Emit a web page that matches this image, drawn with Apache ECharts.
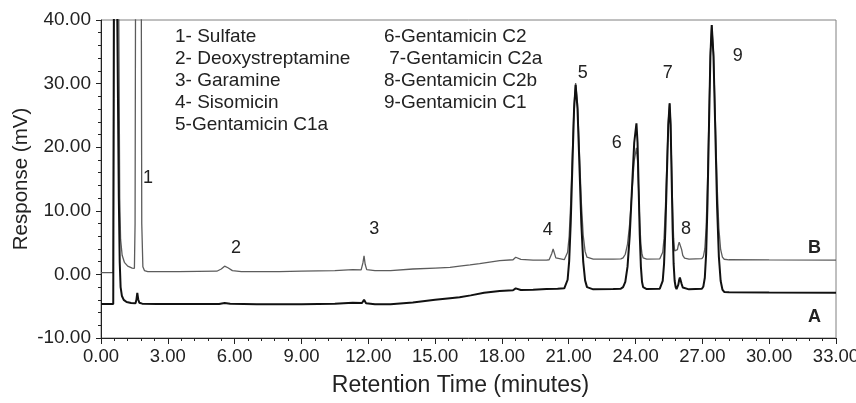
<!DOCTYPE html>
<html><head><meta charset="utf-8">
<script src="https://cdn.jsdelivr.net/npm/echarts@6/dist/echarts.min.js"></script>
<style>html,body{margin:0;padding:0;background:#fff}#c{width:856px;height:403px}</style>
</head><body><div id="c"></div>
<script>
// ---- data (retention time in minutes, response in mV) ----
const xRange = [0, 33];
const yRange = [-10, 40];
const xTickStep = 3;
const yTickStep = 10;

// Trace A (black)
const traceA = [
  [0,-4.65],[0.55,-4.65],[0.58,45],[0.72,45],[0.80,12],[0.84,2],[0.88,-2],[0.94,-3.4],[1.02,-4.0],[1.15,-4.35],[1.35,-4.5],
  [1.55,-4.55],[1.59,-4.0],[1.63,-2.9],[1.67,-3.9],[1.72,-4.45],[1.85,-4.6],[2.5,-4.65],[4.0,-4.65],[5.3,-4.65],[5.55,-4.5],[5.8,-4.6],
  [7.0,-4.7],[9.0,-4.7],[10.5,-4.6],[11.3,-4.45],[11.72,-4.5],[11.81,-4.0],[11.9,-4.55],[12.3,-4.7],[13.0,-4.7],[14.0,-4.4],[15.0,-4.0],
  [15.67,-3.75],[16.1,-3.6],[16.6,-3.3],[17.2,-2.9],[17.9,-2.6],[18.5,-2.5],[18.62,-2.2],[18.7,-2.15],[18.85,-2.45],[19.4,-2.4],[20.0,-2.3],
  [20.5,-2.25],[20.80,-2.18],[20.875,-1.9],[20.95,-0.84],[21.02,2.09],[21.09,8.15],[21.165,17.2],[21.24,26.0],[21.31,29.8],
  [21.395,26.0],[21.48,17.15],[21.565,8.1],[21.65,2.0],[21.735,-0.94],[21.82,-2.0],[21.905,-2.28],[22.1,-2.35],
  [23.0,-2.3],[23.34,-2.24],[23.44,-2.0],[23.54,-1.16],[23.64,1.22],[23.74,6.16],[23.84,13.5],[23.94,20.7],[24.04,23.75],
  [24.09,20.7],[24.14,13.5],[24.19,6.16],[24.24,1.22],[24.29,-1.16],[24.34,-2.0],[24.39,-2.24],[24.5,-2.3],
  [25.09,-2.24],[25.155,-1.98],[25.22,-1.02],[25.28,1.65],[25.34,7.2],[25.405,15.4],[25.47,23.5],[25.53,26.9],
  [25.575,23.5],[25.62,15.4],[25.665,7.2],[25.71,1.65],[25.755,-1.0],[25.80,-1.98],[25.84,-2.3],
  [25.88,-2.2],[25.92,-1.6],[25.96,-0.85],[25.99,-0.5],[26.03,-0.8],[26.07,-1.5],[26.12,-2.05],[26.2,-2.3],[26.4,-2.35],
  [26.98,-2.26],[27.045,-1.89],[27.11,-0.53],[27.17,3.27],[27.23,11.14],[27.295,22.85],[27.36,34.3],[27.42,39.2],
  [27.50,34.3],[27.58,22.65],[27.66,10.8],[27.74,2.84],[27.82,-1.0],[27.90,-2.38],[27.98,-2.76],[28.2,-2.8],[30.0,-2.85],[33,-2.9]
];

// Trace B (grey)
const traceB = [
  [0,0.27],[0.55,0.27],[0.58,45],[0.76,45],[0.80,40],[0.84,12],[0.88,5.5],[0.95,3.0],[1.05,1.9],[1.2,1.3],[1.4,1.0],[1.5,0.95],
  [1.53,8],[1.56,60],[1.80,60],[1.83,8],[1.88,1.2],[1.95,0.6],[2.1,0.45],[3.5,0.45],[5.2,0.5],[5.4,0.85],[5.55,1.3],[5.7,1.05],[5.9,0.6],
  [6.3,0.45],[8.0,0.45],[9.0,0.5],[10.5,0.6],[11.3,0.75],[11.68,0.7],[11.76,1.8],[11.81,2.9],[11.86,1.6],[11.93,0.75],[12.3,0.6],
  [13.0,0.6],[14.0,0.85],[15.0,1.0],[15.67,1.1],[16.1,1.3],[16.57,1.5],[17.0,1.7],[17.9,2.15],[18.5,2.3],[18.62,2.7],[18.7,2.75],
  [18.85,2.35],[19.4,2.26],[20.0,2.26],[20.12,2.3],[20.18,2.6],[20.24,3.3],[20.3,4.0],[20.36,3.3],[20.42,2.6],[20.5,2.3],
  [20.80,2.32],[20.875,2.57],[20.95,3.48],[21.02,6.03],[21.09,11.3],[21.165,19.15],[21.24,26.8],[21.31,30.1],
  [21.395,26.85],[21.48,19.2],[21.565,11.4],[21.65,6.15],[21.735,3.62],[21.82,2.7],[21.905,2.46],[22.1,2.4],
  [23.0,2.4],[23.34,2.44],[23.44,2.6],[23.54,3.17],[23.64,4.77],[23.74,8.08],[23.84,13.0],[23.94,17.85],[24.04,19.9],
  [24.09,17.85],[24.14,13.0],[24.19,8.08],[24.24,4.77],[24.29,3.17],[24.34,2.6],[24.39,2.44],[24.5,2.4],
  [25.09,2.45],[25.155,2.67],[25.22,3.48],[25.28,5.7],[25.34,10.35],[25.405,17.25],[25.47,24.0],[25.53,26.9],
  [25.575,24.0],[25.62,17.25],[25.665,10.35],[25.71,5.7],[25.755,3.7],[25.80,3.4],[25.84,3.45],[25.88,3.9],[25.92,4.6],
  [25.96,5.05],[25.99,5.15],[26.03,4.8],[26.07,3.9],[26.12,3.0],[26.2,2.55],[26.4,2.4],
  [26.98,2.48],[27.045,2.81],[27.11,4.0],[27.17,7.38],[27.23,14.35],[27.295,24.7],[27.36,34.9],[27.42,39.2],
  [27.50,34.9],[27.58,24.7],[27.66,14.3],[27.74,7.3],[27.82,3.92],[27.90,2.71],[27.98,2.38],[28.2,2.3],[30.0,2.28],[33,2.26]
];

// legend text columns
const legendCol1 = ['1- Sulfate','2- Deoxystreptamine','3- Garamine','4- Sisomicin','5-Gentamicin C1a'];
const legendCol2 = ['6-Gentamicin C2',' 7-Gentamicin C2a','8-Gentamicin C2b','9-Gentamicin C1'];

// peak annotations, anchored in data coordinates
const peakLabels = [
  {text:'1', t:2.11, v:15.2},{text:'2', t:6.06, v:4.2},{text:'3', t:12.27, v:7.1},{text:'4', t:20.06, v:7.0},
  {text:'5', t:21.63, v:31.6},{text:'6', t:23.16, v:20.7},{text:'7', t:25.45, v:31.7},{text:'8', t:26.26, v:7.1},{text:'9', t:28.59, v:34.4}
];
const traceLabels = [{text:'B', t:32.03, v:4.1},{text:'A', t:32.03, v:-6.75}];

const FONT = "'Liberation Sans', Arial, Helvetica, sans-serif";
const chart = echarts.init(document.getElementById('c'), null, {renderer:'canvas'});
const option = {
  animation: false,
  backgroundColor: '#fff',
  grid: {left:101, right:20, top:20, bottom:65, containLabel:false, outerBoundsMode:'none',
         show:true, borderColor:'#808080', borderWidth:1, backgroundColor:'transparent'},
  xAxis: {
    type:'value', min:xRange[0], max:xRange[1], interval:xTickStep,
    name:'Retention Time (minutes)', nameLocation:'middle', nameGap:36,
    nameTextStyle:{fontFamily:FONT, fontSize:23, color:'#222', padding:[0,16,0,0]},
    axisLine:{show:true, onZero:false, lineStyle:{color:'#222', width:1}},
    axisTick:{show:true, length:6, lineStyle:{color:'#222'}},
    minorTick:{show:true, splitNumber:5, length:3, lineStyle:{color:'#222'}},
    axisLabel:{fontFamily:FONT, fontSize:18.5, color:'#222', margin:9, formatter:v=>v.toFixed(2)},
    splitLine:{show:false}
  },
  yAxis: {
    type:'value', min:yRange[0], max:yRange[1], interval:yTickStep,
    name:'Response (mV)', nameLocation:'middle', nameGap:69, nameRotate:90, nameMoveOverlap:false,
    nameTextStyle:{fontFamily:FONT, fontSize:20.5, color:'#222'},
    axisLine:{show:true, onZero:false, lineStyle:{color:'#222', width:1}},
    axisTick:{show:true, length:5, lineStyle:{color:'#222'}},
    minorTick:{show:true, splitNumber:5, length:3, lineStyle:{color:'#222'}},
    axisLabel:{fontFamily:FONT, fontSize:19, color:'#222', margin:10, formatter:v=>v.toFixed(2)},
    splitLine:{show:false}
  },
  series: [
    {name:'B', type:'line', data:traceB, showSymbol:false, symbol:'none', clip:true, z:2,
     lineStyle:{color:'#5c5c5c', width:1.3}},
    {name:'A', type:'line', data:traceA, showSymbol:false, symbol:'none', clip:true, z:3,
     lineStyle:{color:'#111111', width:2}}
  ]
};
chart.setOption(option);

function txt(x, y, text, size, weight, align) {
  return {type:'text', x:x, y:y, z:100, silent:true,
    style:{text:text, fontFamily:FONT, fontSize:size, fontWeight:weight||'normal', fill:'#222',
      align:align||'center', verticalAlign:'middle', textAlign:align||'center', textVerticalAlign:'middle'}};
}
const g = [];
legendCol1.forEach((s,i)=>g.push(txt(175, 37 + i*22, s, 19, 'normal', 'left')));
legendCol2.forEach((s,i)=>g.push(txt(384, 37 + i*22, s, 19, 'normal', 'left')));
peakLabels.forEach(p=>{const q = chart.convertToPixel({gridIndex:0},[p.t,p.v]); g.push(txt(q[0],q[1],p.text,18));});
traceLabels.forEach(p=>{const q = chart.convertToPixel({gridIndex:0},[p.t,p.v]); g.push(txt(q[0],q[1],p.text,18,'bold'));});
chart.setOption({graphic: g});
</script>
</body></html>
